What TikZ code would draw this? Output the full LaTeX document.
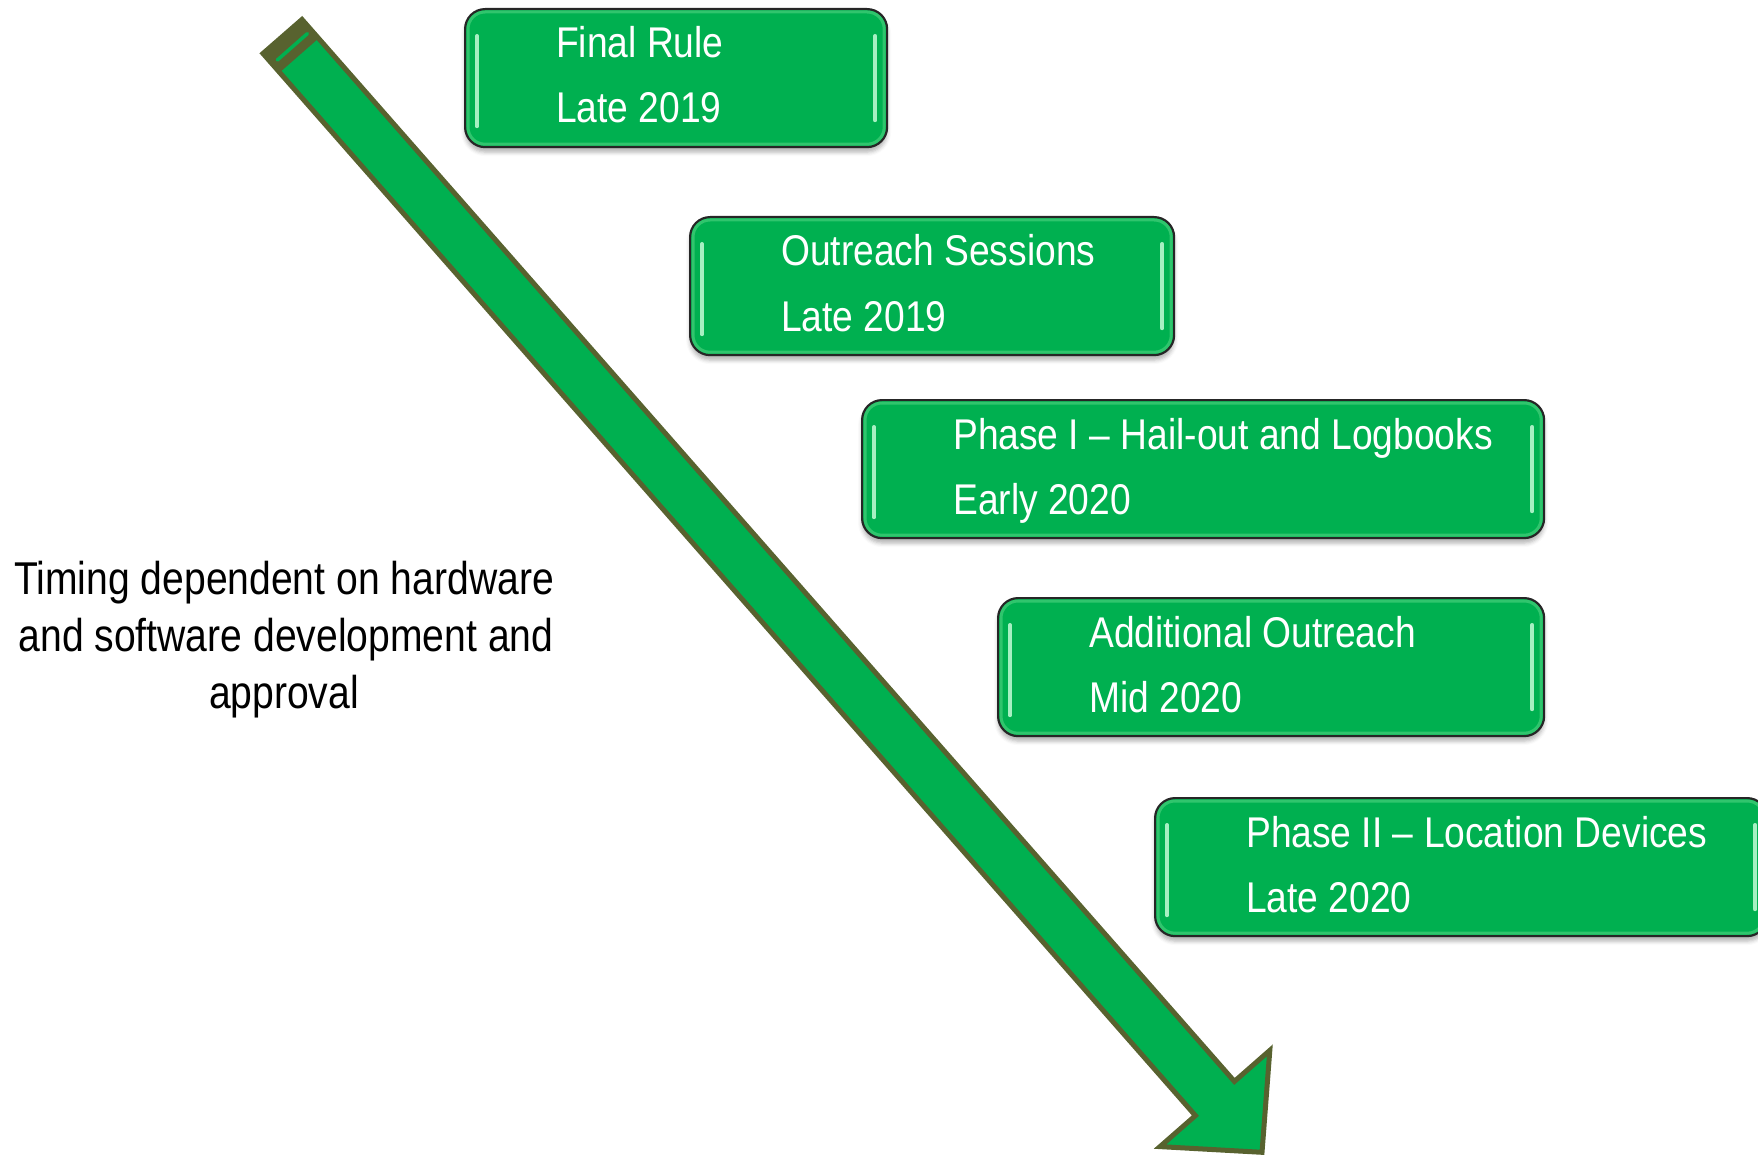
\documentclass[tikz,border=0pt]{standalone}
\usepackage{fontspec}
\newfontfamily\tlfont{Liberation Sans}[FakeStretch=0.85]
\newfontfamily\tlboxfont{Liberation Sans}[FakeStretch=0.865]
\usetikzlibrary{calc,shadows.blur}
\definecolor{boxgreen}{HTML}{00B050}
\definecolor{arrowgreen}{HTML}{00B050}
\definecolor{olive}{HTML}{58622F}
\definecolor{rimgreen}{HTML}{3CCB75}
\definecolor{glint}{HTML}{A6F0C2}
\tikzset{
  boxshape/.style={draw=black!85, line width=2.2pt, fill=boxgreen, rounded corners=20pt,
    anchor=north west, inner sep=0pt, minimum height=138pt,
    blur shadow={shadow xshift=0pt, shadow yshift=-5pt, shadow blur radius=4pt, shadow opacity=30}},
  boxtext/.style={anchor=base west, inner sep=0pt, text=white, font=\tlboxfont\fontsize{43}{50}\selectfont},
  notetext/.style={anchor=base, inner sep=0pt, text=black, font=\tlfont\fontsize{46}{57}\selectfont},
  rim/.style={rimgreen, line width=3pt, rounded corners=17pt, opacity=0.8},
  glintline/.style={glint, line width=4pt, line cap=round},
  arrowbody/.style={fill=arrowgreen, draw=olive, line width=5pt, line join=miter},
}
\newcommand\tlbox[6]{%
  \node[boxshape, minimum width=#4pt] (#1) at (#2,#3) {};
  \draw[rim] ($(#1.north west)+(4,4)$) rectangle ($(#1.south east)+(-4,-4)$);
  \draw[glintline] ($(#1.north west)+(13,28)$) -- ($(#1.south west)+(13,-22)$);
  \draw[glintline] ($(#1.north east)+(-13,28)$) -- ($(#1.south east)+(-13,-28)$);
  \node[boxtext] (#1a) at ($(#1.north west)+(92,50)$) {#5};
  \node[boxtext] (#1b) at ($(#1.north west)+(92,115)$) {#6};
}
\begin{document}
\begin{tikzpicture}[x=1pt,y=-1pt]
\useasboundingbox (0,0) rectangle (1758,1155);
% arrow
\coordinate (T1) at (263,53.5);
\coordinate (T2) at (302,19.5);
\coordinate (R)  at (1234.4,1081.4);
\coordinate (RB) at (1269.8,1050.4);
\coordinate (tip) at (1262,1152.3);
\coordinate (LB) at (1160,1146.6);
\coordinate (L)  at (1195.4,1115.6);
\coordinate (T1b) at (280.1,72.1);
\coordinate (T2b) at (319.1,37.9);
\coordinate (s1) at (307.4,33.6);
\coordinate (s2) at (277.4,60.0);
\draw[arrowbody] (T1) -- (T2) -- (R) -- (RB) -- (tip) -- (LB) -- (L) -- cycle;
\fill[olive] (T1) -- (T2) -- (T2b) -- (T1b) -- cycle;
\draw[arrowgreen, line width=3.5pt, line cap=round] (s1) -- (s2);
% boxes
\tlbox{b1}{464}{8}{422}{Final Rule}{Late 2019}
\tlbox{b2}{689}{216}{484}{Outreach Sessions}{Late 2019}
\tlbox{b3}{861}{399}{682}{Phase I – Hail-out and Logbooks}{Early 2020}
\tlbox{b4}{997}{597}{546}{Additional Outreach}{Mid 2020}
\tlbox{b5}{1154}{797}{612}{Phase II – Location Devices}{Late 2020}
% note
\node[notetext] (n1) at (284,594) {Timing dependent on hardware};
\node[notetext] (n2) at (286,651) {and software development and};
\node[notetext] (n3) at (284,708) {approval};
\end{tikzpicture}
\end{document}
